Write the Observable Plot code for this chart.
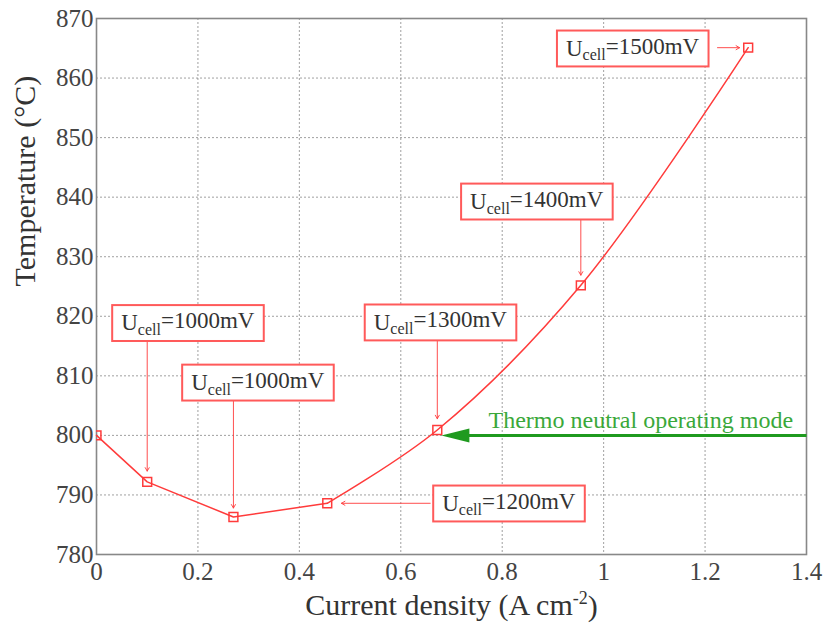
<!DOCTYPE html>
<html>
<head>
<meta charset="utf-8">
<script src="https://cdn.jsdelivr.net/npm/d3@7"></script>
<script src="https://cdn.jsdelivr.net/npm/@observablehq/plot@0.6"></script>
<style>
  html, body { margin: 0; padding: 0; background: #fff; }
  #chart svg { display: block; }
</style>
</head>
<body>
<div id="chart"></div>
<script>
// ---- data ----
const currentDensity = [0, 0.1, 0.27, 0.455, 0.672, 0.955, 1.285];
const temperature   = [800, 792.2, 786.3, 788.6, 800.9, 825.2, 865.1];

const xTicks = [0, 0.2, 0.4, 0.6, 0.8, 1, 1.2, 1.4];
const yTicks = [780, 790, 800, 810, 820, 830, 840, 850, 860, 870];

// annotations: cell voltage labels
const annVoltage = ["1000mV", "1000mV", "1300mV", "1400mV", "1500mV", "1200mV"];
const annX = [0.18, 0.318, 0.678, 0.868, 1.057, 0.813];
const annY = [818.9, 808.9, 819.0, 839.3, 865.0, 788.6];
// arrow from label to point
const arrX1 = [0.1, 0.27, 0.672, 0.955, 1.2245, 0.658];
const arrY1 = [816.3, 806.4, 816.0, 836.4, 865.1, 788.6];
const arrX2 = [0.1, 0.27, 0.672, 0.955, 1.268, 0.483];
const arrY2 = [794.0, 787.8, 802.8, 826.9, 865.1, 788.6];

const thermoText = "Thermo neutral operating mode";
const thermoY = 800;
const thermoArrowFrom = 1.4, thermoArrowTo = 0.68;
const thermoTextX = 0.773, thermoTextY = 802.6;

const xLabel = "Current density (A cm^-2)";
const yLabel = "Temperature (°C)";

// ---- tables ----
const points = currentDensity.map((x, i) => ({x, y: temperature[i], i}));
const firstPart = points.slice(0, 4);
const secondPart = points.slice(3);
const ann = annVoltage.map((v, i) => ({v, x: annX[i], y: annY[i]}));
const arrows = arrX1.map((x1, i) => ({x1, y1: arrY1[i], x2: arrX2[i], y2: arrY2[i]}));

const red = "#ff3b3b";
const green = "#1f9a1f";
const serif = "'Liberation Serif', 'Times New Roman', serif";

const chart = Plot.plot({
  width: 825,
  height: 634,
  marginLeft: 96,
  marginRight: 19,
  marginTop: 18,
  marginBottom: 80,
  x: {domain: [0, 1.4]},
  y: {domain: [780, 870]},
  style: {fontFamily: serif, fontSize: "24px", color: "#333", background: "#fff"},
  marks: [
    Plot.gridX(xTicks, {stroke: "#777", strokeOpacity: 0.7, strokeDasharray: "2,2"}),
    Plot.gridY(yTicks, {stroke: "#777", strokeOpacity: 0.7, strokeDasharray: "2,2"}),
    Plot.frame({stroke: "#888", strokeWidth: 1.6}),
    Plot.axisX(xTicks, {tickSize: 0, tickPadding: 8, label: null, fontSize: 25, fill: "#444", fontFamily: serif,
      fontVariant: "normal", tickFormat: d => String(+d.toFixed(1))}),
    Plot.axisY(yTicks, {tickSize: 0, tickPadding: 3, label: null, fontSize: 25, fill: "#444", fontFamily: serif,
      fontVariant: "normal"}),
    Plot.line(firstPart, {x: "x", y: "y", stroke: red, strokeWidth: 1.5}),
    Plot.line(secondPart, {x: "x", y: "y", stroke: red, strokeWidth: 1.5, curve: "catmull-rom"}),
    Plot.dot(points, {x: "x", y: "y", symbol: "square", r: 5, stroke: red, strokeWidth: 1.5, fill: "none", clip: true}),
    Plot.arrow(arrows, {x1: "x1", y1: "y1", x2: "x2", y2: "y2", stroke: red, strokeWidth: 1, headLength: 6, strokeOpacity: 0.9}),
    Plot.link([0], {x1: thermoArrowFrom, x2: thermoArrowTo + 0.03, y1: thermoY, y2: thermoY, stroke: green, strokeWidth: 3}),
    Plot.vector([0], {x: thermoArrowTo, y: thermoY, length: 28, rotate: -90, shape: "spike", anchor: "end", r: 7, fill: green, stroke: "none"}),
    Plot.text([thermoText], {x: thermoTextX, y: thermoTextY, text: d => d, textAnchor: "start", fill: "#3aa83a", fontSize: 24}),
    Plot.text(ann, {x: "x", y: "y", text: d => "U|cell|=" + d.v, fill: "#333", fontSize: 23, className: "ucell"}),
    Plot.text([xLabel], {frameAnchor: "bottom", dy: 60, text: d => d, fontSize: 30, fill: "#333", className: "xlab"}),
    Plot.text([yLabel], {frameAnchor: "left", dx: -71, rotate: -90, text: d => d, fontSize: 30, fill: "#333"})
  ]
});

document.getElementById("chart").appendChild(chart);

// subscript "cell" and boxes around labels
d3.select(chart).selectAll("g.ucell text").each(function() {
  const t = d3.select(this);
  const parts = this.textContent.split("|");
  t.text(null);
  t.append("tspan").text(parts[0]);
  t.append("tspan").attr("font-size", "16px").attr("dy", "0.3em").text(parts[1]);
  t.append("tspan").attr("dy", "-0.3em").text(parts[2]);
  const bb = this.getBBox();
  d3.select(this.parentNode).insert("rect", () => this)
    .attr("transform", t.attr("transform"))
    .attr("x", bb.x - 9).attr("y", bb.y - 3)
    .attr("width", bb.width + 18).attr("height", bb.height + 6)
    .attr("fill", "#fff").attr("stroke", "#ff5a5a").attr("stroke-width", 2);
});
d3.select(chart).selectAll("g.xlab text").each(function() {
  const t = d3.select(this);
  const parts = this.textContent.split("^");
  t.text(null);
  t.append("tspan").text(parts[0]);
  t.append("tspan").attr("font-size", "18px").attr("dy", "-0.6em").text(parts[1].slice(0, 2));
  t.append("tspan").attr("dy", "0.4em").text(parts[1].slice(2));
});
</script>
</body>
</html>
